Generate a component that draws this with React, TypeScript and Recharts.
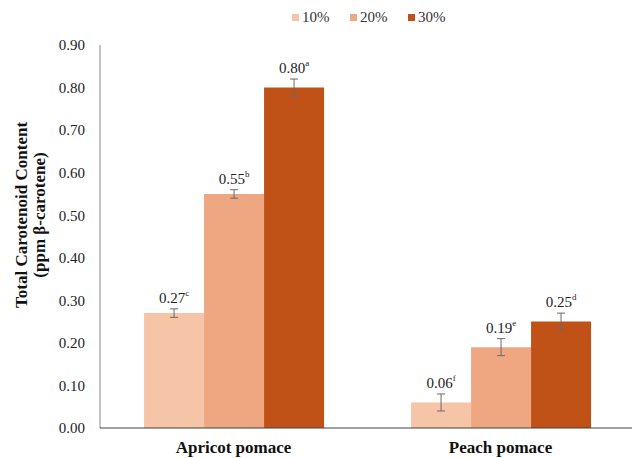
import React from "react";
import { BarChart, Bar, XAxis, YAxis, Legend, ErrorBar, LabelList } from "recharts";

const categories = ["Apricot pomace", "Peach pomace"];
const series = ["10%", "20%", "30%"];
const values10 = [0.27, 0.06];
const values20 = [0.55, 0.19];
const values30 = [0.8, 0.25];
const errors10 = [0.01, 0.02];
const errors20 = [0.01, 0.02];
const errors30 = [0.02, 0.02];
const letters10 = ["c", "f"];
const letters20 = ["b", "e"];
const letters30 = ["a", "d"];
const yTicks = [0, 0.1, 0.2, 0.3, 0.4, 0.5, 0.6, 0.7, 0.8, 0.9];
const colors = ["#F6C4A6", "#EFA782", "#C05117"];

const data = categories.map((c, i) => ({
  name: c,
  v10: values10[i],
  v20: values20[i],
  v30: values30[i],
  e10: errors10[i],
  e20: errors20[i],
  e30: errors30[i],
  l10: letters10[i],
  l20: letters20[i],
  l30: letters30[i],
}));

const FONT = "'Liberation Serif', 'Times New Roman', serif";

const makeLabel = (valKey: string, errKey: string, letKey: string) => (props: any) => {
  const { x, y, width, height, index } = props;
  const d: any = data[index];
  const v = d[valKey];
  const e = d[errKey];
  const pxPerUnit = height / v;
  const cy = y - e * pxPerUnit - 11;
  return (
    <text x={x + width / 2} y={cy} textAnchor="middle" dominantBaseline="central" fontFamily={FONT} fontSize={15} fill="#222">
      <tspan>{v.toFixed(2)}</tspan>
      <tspan fontSize={9} dy={-5}>{d[letKey]}</tspan>
    </text>
  );
};

const renderLegend = () => (
  <div style={{ display: "flex", paddingLeft: 292, fontFamily: FONT, fontSize: 15, color: "#333", lineHeight: "18px" }}>
    {series.map((s, i) => (
      <div key={s} style={{ display: "flex", alignItems: "center", width: 58 }}>
        <span style={{ display: "inline-block", width: 7, height: 7, background: colors[i], marginRight: 3 }} />
        <span>{s}</span>
      </div>
    ))}
  </div>
);

const YLabel = () => (
  <text transform="rotate(-90)" fontFamily={FONT} fontWeight="bold" fontSize={17} fill="#111" textAnchor="middle">
    <tspan x={-215} y={27}>Total Carotenoid Content</tspan>
    <tspan x={-215} y={45}>(ppm β-carotene)</tspan>
  </text>
);

export default function App() {
  return (
    <div style={{ position: "absolute", left: 0, top: 0, width: 632, height: 458, background: "#fff" }}>
      <BarChart
        width={632}
        height={458}
        data={data}
        margin={{ top: 6, right: -2, bottom: 0, left: 0 }}
        barCategoryGap="16.5%"
        barGap={0}
      >
        <Legend verticalAlign="top" height={39} content={renderLegend} wrapperStyle={{ top: 8, left: 0, width: 632 }} />
        <YAxis
          width={100}
          domain={[0, 0.9]}
          ticks={yTicks}
          tickFormatter={(v: number) => v.toFixed(2)}
          tickLine={false}
          axisLine={{ stroke: "#8a8a8a" }}
          tick={{ fontFamily: FONT, fontSize: 15, fill: "#222" }}
          tickMargin={9}
          interval={0}
        />
        <XAxis
          dataKey="name"
          height={30}
          tickLine={false}
          axisLine={{ stroke: "#404040" }}
          tick={{ fontFamily: FONT, fontSize: 17, fontWeight: "bold", fill: "#111" }}
          tickMargin={7}
        />
        <Bar dataKey="v10" name="10%" fill={colors[0]} isAnimationActive={false}>
          <ErrorBar dataKey="e10" width={4} stroke="#6a6a6a" strokeWidth={1} />
          <LabelList dataKey="v10" content={makeLabel("v10", "e10", "l10")} />
        </Bar>
        <Bar dataKey="v20" name="20%" fill={colors[1]} isAnimationActive={false}>
          <ErrorBar dataKey="e20" width={4} stroke="#6a6a6a" strokeWidth={1} />
          <LabelList dataKey="v20" content={makeLabel("v20", "e20", "l20")} />
        </Bar>
        <Bar dataKey="v30" name="30%" fill={colors[2]} isAnimationActive={false}>
          <ErrorBar dataKey="e30" width={4} stroke="#6a6a6a" strokeWidth={1} />
          <LabelList dataKey="v30" content={makeLabel("v30", "e30", "l30")} />
        </Bar>
        <YLabel />
      </BarChart>
    </div>
  );
}
